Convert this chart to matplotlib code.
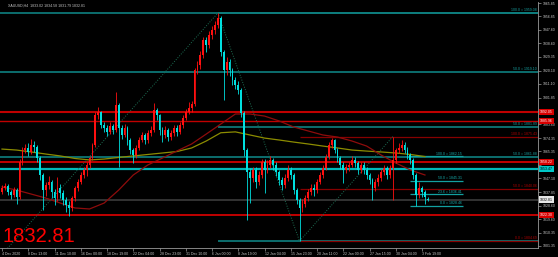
import matplotlib
matplotlib.use("Agg")
import matplotlib.pyplot as plt
from matplotlib.transforms import blended_transform_factory

# ---------------- data ----------------
title_text = "XAUUSD,H4  1833.02 1834.58 1831.79 1832.81"
last_price_text = "1832.81"

opens = [
1838.0, 1840.6, 1841.9, 1837.9, 1835.8, 1839.2, 1834.5, 1858.2, 1866.3, 1867.7,
1865.0, 1869.7, 1868.4, 1860.9, 1849.4, 1839.2, 1842.6, 1844.7, 1837.9, 1833.8,
1840.6, 1837.2, 1832.5, 1829.1, 1827.1, 1833.8, 1840.6, 1844.7, 1849.4, 1852.8,
1856.2, 1860.9, 1869.7, 1890.0, 1892.1, 1883.3, 1881.2, 1878.5, 1882.6, 1879.9,
1896.8, 1881.2, 1876.5, 1881.2, 1873.1, 1866.3, 1862.9, 1867.7, 1873.1, 1876.5,
1873.1, 1877.8, 1879.9, 1893.4, 1890.0, 1879.9, 1876.5, 1879.9, 1875.1, 1877.8,
1881.2, 1878.5, 1883.3, 1888.0, 1892.1, 1894.8, 1897.5, 1920.5, 1923.9, 1930.6,
1940.8, 1937.4, 1944.2, 1947.6, 1951.0, 1955.7, 1932.7, 1920.5, 1925.9, 1920.5,
1913.7, 1910.3, 1906.9, 1891.4, 1866.3, 1851.4, 1847.4, 1852.8, 1844.7, 1849.4,
1858.2, 1852.8, 1856.2, 1859.6, 1856.2, 1851.4, 1846.0, 1842.6, 1847.4, 1852.8,
1849.4, 1839.2, 1832.5, 1827.1, 1829.8, 1833.8, 1837.9, 1840.6, 1839.2, 1844.7,
1849.4, 1854.1, 1861.6, 1869.7, 1873.1, 1866.3, 1860.9, 1856.2, 1852.8, 1854.8,
1856.2, 1859.6, 1857.5, 1852.8, 1856.2, 1852.8, 1849.4, 1846.0, 1840.6, 1844.7,
1847.4, 1851.4, 1854.1, 1849.4, 1854.1, 1859.6, 1866.3, 1867.7, 1869.7, 1866.3,
1862.9, 1859.6, 1849.4, 1835.8, 1840.6, 1837.9, 1833.02]

highs = [
1842.5, 1844.0, 1843.0, 1839.5, 1841.0, 1840.5, 1860.0, 1868.5, 1870.5, 1871.0,
1874.0, 1872.5, 1869.5, 1862.0, 1851.0, 1845.0, 1849.0, 1846.0, 1840.0, 1848.0,
1843.0, 1839.0, 1834.5, 1831.5, 1835.0, 1842.0, 1847.0, 1851.5, 1855.0, 1858.5,
1862.5, 1871.0, 1892.0, 1895.5, 1893.0, 1885.5, 1883.5, 1885.0, 1884.0, 1905.5,
1898.0, 1883.0, 1884.0, 1882.5, 1874.5, 1868.0, 1869.5, 1875.0, 1878.5, 1878.0,
1880.0, 1882.5, 1898.2, 1895.0, 1891.0, 1882.0, 1882.5, 1881.0, 1880.0, 1883.5,
1883.0, 1885.0, 1890.0, 1894.0, 1898.5, 1899.5, 1922.0, 1926.5, 1933.5, 1943.0,
1942.5, 1947.0, 1950.0, 1954.0, 1959.08, 1957.0, 1934.0, 1929.0, 1928.0, 1922.0,
1915.5, 1913.0, 1908.5, 1892.5, 1868.0, 1854.0, 1855.0, 1854.5, 1852.0, 1860.5,
1860.0, 1859.5, 1862.0, 1861.0, 1858.0, 1853.0, 1848.0, 1850.0, 1856.0, 1854.5,
1851.0, 1840.5, 1834.0, 1833.0, 1836.0, 1840.0, 1843.0, 1843.5, 1847.0, 1851.5,
1856.5, 1863.5, 1871.5, 1874.5, 1874.0, 1868.0, 1862.0, 1858.0, 1857.0, 1858.5,
1862.0, 1861.5, 1859.0, 1858.5, 1858.0, 1854.5, 1851.0, 1847.5, 1847.0, 1850.0,
1853.5, 1856.5, 1855.5, 1856.5, 1875.43, 1868.0, 1871.0, 1873.1, 1871.5, 1868.5,
1864.5, 1861.0, 1850.5, 1844.7, 1842.0, 1839.0, 1834.58]

lows = [
1836.5, 1839.0, 1836.0, 1833.0, 1834.5, 1830.0, 1833.0, 1856.5, 1864.0, 1862.5,
1863.5, 1865.0, 1858.5, 1846.0, 1825.7, 1835.0, 1840.0, 1834.0, 1829.0, 1832.0,
1834.0, 1829.0, 1824.5, 1821.5, 1825.0, 1831.5, 1838.5, 1843.0, 1847.5, 1849.0,
1854.0, 1859.5, 1868.5, 1887.0, 1881.5, 1878.5, 1876.0, 1877.0, 1877.5, 1878.5,
1854.8, 1873.5, 1875.0, 1870.0, 1863.5, 1857.5, 1861.0, 1866.0, 1871.5, 1870.5,
1871.0, 1875.5, 1878.5, 1886.5, 1876.5, 1872.0, 1874.5, 1872.5, 1873.0, 1876.0,
1875.5, 1877.0, 1881.5, 1886.5, 1890.5, 1892.0, 1896.0, 1918.0, 1921.5, 1928.5,
1933.0, 1935.5, 1941.5, 1945.0, 1949.0, 1930.0, 1900.2, 1917.0, 1916.5, 1910.5,
1907.5, 1904.0, 1889.0, 1862.0, 1818.9, 1830.6, 1845.0, 1840.5, 1842.5, 1847.5,
1837.2, 1850.5, 1854.0, 1853.0, 1848.5, 1842.5, 1839.0, 1840.5, 1845.5, 1846.5,
1836.5, 1829.5, 1804.69, 1824.5, 1828.0, 1832.0, 1836.0, 1835.5, 1837.5, 1843.0,
1847.5, 1852.5, 1860.0, 1867.5, 1864.0, 1858.0, 1853.5, 1844.0, 1850.5, 1852.0,
1854.5, 1855.0, 1850.0, 1851.0, 1850.0, 1846.5, 1843.0, 1832.5, 1838.5, 1842.0,
1845.5, 1849.5, 1847.0, 1847.5, 1832.5, 1857.5, 1864.5, 1865.5, 1864.0, 1860.5,
1857.0, 1846.5, 1828.46, 1834.0, 1834.5, 1830.0, 1831.79]

closes = [
1840.6, 1841.9, 1837.9, 1835.8, 1839.2, 1834.5, 1858.2, 1866.3, 1867.7, 1865.0,
1869.7, 1868.4, 1860.9, 1849.4, 1839.2, 1842.6, 1844.7, 1837.9, 1833.8, 1840.6,
1837.2, 1832.5, 1829.1, 1827.1, 1833.8, 1840.6, 1844.7, 1849.4, 1852.8, 1856.2,
1860.9, 1869.7, 1890.0, 1892.1, 1883.3, 1881.2, 1878.5, 1882.6, 1879.9, 1896.8,
1881.2, 1876.5, 1881.2, 1873.1, 1866.3, 1862.9, 1867.7, 1873.1, 1876.5, 1873.1,
1877.8, 1879.9, 1893.4, 1890.0, 1879.9, 1876.5, 1879.9, 1875.1, 1877.8, 1881.2,
1878.5, 1883.3, 1888.0, 1892.1, 1894.8, 1897.5, 1920.5, 1923.9, 1930.6, 1940.8,
1937.4, 1944.2, 1947.6, 1951.0, 1955.7, 1932.7, 1920.5, 1925.9, 1920.5, 1913.7,
1910.3, 1906.9, 1891.4, 1866.3, 1851.4, 1847.4, 1852.8, 1844.7, 1849.4, 1858.2,
1852.8, 1856.2, 1859.6, 1856.2, 1851.4, 1846.0, 1842.6, 1847.4, 1852.8, 1849.4,
1839.2, 1832.5, 1827.1, 1829.8, 1833.8, 1837.9, 1840.6, 1839.2, 1844.7, 1849.4,
1854.1, 1861.6, 1869.7, 1873.1, 1866.3, 1860.9, 1856.2, 1852.8, 1854.8, 1856.2,
1859.6, 1857.5, 1852.8, 1856.2, 1852.8, 1849.4, 1846.0, 1840.6, 1844.7, 1847.4,
1851.4, 1854.1, 1849.4, 1854.1, 1859.6, 1866.3, 1867.7, 1869.7, 1866.3, 1862.9,
1859.6, 1849.4, 1835.8, 1840.6, 1837.9, 1834.5, 1832.81]

# moving averages, read every 5 bars
ma_idx = [0, 5, 10, 15, 20, 25, 30, 35, 40, 45, 50, 55, 60, 65, 70, 75, 80, 85,
          90, 95, 100, 105, 110, 115, 120, 125, 130, 135, 140, 145]
ma_slow = [1866.95, 1866.3, 1865.0, 1863.6, 1862.3, 1860.6, 1859.6, 1860.2, 1861.3,
           1862.3, 1863.3, 1864.3, 1865.3, 1867.7, 1872.4, 1878.0, 1878.6, 1876.5,
           1874.4, 1873.1, 1871.7, 1870.4, 1869.0, 1867.7, 1866.3, 1865.6, 1865.0,
           1864.3, 1863.3, 1861.9]
ma_fast = [1841.3, 1839.2, 1836.5, 1833.8, 1830.4, 1827.1, 1826.4, 1830.4, 1839.2,
           1849.4, 1856.2, 1860.9, 1865.7, 1870.4, 1877.1, 1883.9, 1890.7, 1890.7,
           1889.3, 1886.0, 1881.9, 1879.2, 1876.5, 1875.1, 1872.4, 1869.0, 1862.9,
           1857.5, 1852.8, 1849.4]

# full-width teal levels
teal_prices = [1959.08, 1919.10, 1861.88]
teal_labels = ["100.0 = 1959.08", "50.0 = 1919.10", "50.0 = 1861.88"]

# fibonacci B (teal, from the January high)
fibb_start = 74
fibb_prices = [1959.08, 1881.89, 1804.69]
fibb_labels = ["", "50.0 = 1881.89", ""]

# fibonacci D (dark red, from the January low)
fibd_start = 102
fibd_prices = [1875.43, 1840.06, 1804.69]
fibd_labels = ["100.0 = 1875.43", "50.0 = 1840.06", "0.0 = 1804.69"]

# small fibonacci at the end
fibs_start = 139.7
fibs_end = 157.9
fibs_prices = [1862.15, 1845.31, 1836.41, 1828.46]
fibs_labels = ["100.0 = 1862.15", "50.0 = 1845.31", "23.6 = 1836.41", "0.0 = 1828.46"]

# support / resistance lines
red_prices = [1892.05, 1885.96, 1858.22, 1822.30]
red_widths = [1.5, 1.0, 1.4, 1.4]
cyan_price = 1853.47
current_price = 1832.81

# dotted trend lines (bar index, price)
trend_x = [[-14, 74], [74, 102], [102, 134]]
trend_y = [[1764.68, 1959.08], [1959.08, 1804.69], [1804.69, 1875.43]]

# price-axis boxes
box_prices = [1892.05, 1885.96, 1858.22, 1853.47, 1832.81, 1822.30]
box_fc = ['#d80000', '#d80000', '#d80000', '#00c8c8', '#e6e6e6', '#d80000']
box_tc = ['white', 'white', 'white', 'black', 'black', 'white']

# right-axis scale (labels hidden under the price boxes are left empty)
ytick_vals = [1965.85, 1956.85, 1947.60, 1938.60, 1929.35, 1920.10, 1911.10, 1901.85,
              1892.85, 1883.60, 1874.35, 1865.35, 1856.10, 1847.10, 1837.85, 1828.60,
              1819.60, 1810.35, 1801.35]
ytick_labels = ["1965.85", "1956.85", "1947.60", "1938.60", "1929.35", "1920.10",
                "1911.10", "1901.85", "", "1883.60", "1874.35", "1865.35",
                "", "1847.10", "1837.85", "1828.60", "1819.60", "1810.35",
                "1801.35"]

xtick_idx = [0, 9, 18, 27, 36, 45, 54, 63, 72, 81, 90, 99, 108, 117, 126, 135, 144]
xtick_labels = ["4 Dec 2020", "8 Dec 13:00", "11 Dec 10:00", "16 Dec 00:00",
                "18 Dec 19:00", "22 Dec 04:00", "28 Dec 23:00", "31 Dec 10:00",
                "6 Jan 00:00", "8 Jan 19:00", "12 Jan 04:00", "15 Jan 23:00",
                "20 Jan 11:00", "22 Jan 00:00", "27 Jan 15:00", "30 Jan 04:00",
                "3 Feb 19:00"]

# ---------------- figure ----------------
W, H = 558, 257
SMALL = 2.5
FONT = 'Liberation Sans'
plt.rcParams['font.family'] = [FONT, 'DejaVu Sans']

fig = plt.figure(figsize=(W / 100, H / 100), dpi=100, facecolor='black')
ax = fig.add_axes([0, 9 / H, 538 / W, 246 / H], facecolor='black')
XMIN, XMAX = -2 / 2.917, 536 / 2.917
ax.set_xlim(XMIN, XMAX)
ax.set_ylim(1799.98, 1966.53)

TEAL = '#0e8080'
DRED = '#860000'

# horizontal lines
for p in teal_prices:
    ax.axhline(p, color=TEAL, lw=1.2, zorder=1)
for p in fibb_prices:
    ax.hlines(p, fibb_start, XMAX, color=TEAL, lw=1.2, zorder=1)
for p in fibd_prices:
    ax.hlines(p, fibd_start, XMAX, color=DRED, lw=0.9, zorder=1.1)
for p in fibs_prices:
    ax.hlines(p, fibs_start, fibs_end, color='#12a0a0', lw=0.9, zorder=1.1)
for p, w in zip(red_prices, red_widths):
    ax.axhline(p, color='#c00000', lw=w, zorder=1)
ax.axhline(cyan_price, color='#00b8b8', lw=1.6, zorder=1)
ax.axhline(current_price, color='#3c3c3c', lw=1.2, zorder=0.9)

# dotted trend lines
for tx, ty in zip(trend_x, trend_y):
    ax.plot(tx, ty, color='#1d7055', lw=0.7, ls=(0, (1, 1.6)), zorder=1.2)

# moving averages
ax.plot(ma_idx, ma_slow, color='#8c8c00', lw=0.9, zorder=2)
ax.plot(ma_idx, ma_fast, color='#8e0c0c', lw=0.9, zorder=2)

# candles
UP, DN = '#ff1010', '#00e0e0'
xs = list(range(len(closes)))
cols = [UP if c >= o else DN for o, c in zip(opens, closes)]
ax.vlines(xs, lows, highs, colors=cols, lw=0.6, zorder=3)
bodies = [max(abs(c - o), 0.4) for o, c in zip(opens, closes)]
bottoms = [min(o, c) for o, c in zip(opens, closes)]
ax.bar(xs, bodies, bottom=bottoms, width=0.62, color=cols, linewidth=0, zorder=3.1)

# level labels
xr = 535 / 2.917
def lvl_label(x, p, text, color):
    if text:
        ax.text(x, p + 0.4, text, ha='right', va='bottom', fontsize=SMALL,
                color=color, zorder=4)
for p, lab in zip(teal_prices, teal_labels):
    lvl_label(xr, p, lab, '#16a0a0')
for p, lab in zip(fibb_prices, fibb_labels):
    lvl_label(xr, p, lab, '#16a0a0')
for p, lab in zip(fibd_prices, fibd_labels):
    lvl_label(xr, p, lab, '#b00000')
for p, lab in zip(fibs_prices, fibs_labels):
    lvl_label(fibs_end - 0.3, p, lab, '#16b0b0')

# axes styling
for s in ['top', 'left']:
    ax.spines[s].set_visible(False)
for s in ['bottom', 'right']:
    ax.spines[s].set_color('#9a9a9a')
    ax.spines[s].set_linewidth(0.6)
ax.yaxis.tick_right()
ax.set_yticks(ytick_vals)
ax.set_yticklabels(ytick_labels, fontsize=SMALL, color='#c8c8c8')
ax.tick_params(axis='y', length=2, width=0.5, color='#9a9a9a', pad=1.2)
ax.set_xticks(xtick_idx)
ax.set_xticklabels(xtick_labels, fontsize=SMALL, color='#c8c8c8')
ax.tick_params(axis='x', length=2, width=0.5, color='#9a9a9a', pad=1.0)
for t in ax.get_xticklabels():
    t.set_ha('left')

# price boxes on the axis
bt = blended_transform_factory(ax.transAxes, ax.transData)
for p, fc, tc in zip(box_prices, box_fc, box_tc):
    ax.text(1.004, p, f"{p:.2f}", transform=bt, ha='left', va='center',
            fontsize=SMALL, color=tc, clip_on=False, zorder=5,
            bbox=dict(boxstyle='square,pad=0.35', fc=fc, ec='none'))

# texts
fig.text(8 / W, 1 - 7 / H, title_text, fontsize=SMALL, color='#c8c8c8', va='baseline')
fig.text(3 / W, 1 - 242 / H, last_price_text, fontsize=14.5, color='#ff0000',
         va='baseline', family=FONT)

fig.savefig('out.png', dpi=100, facecolor='black')
